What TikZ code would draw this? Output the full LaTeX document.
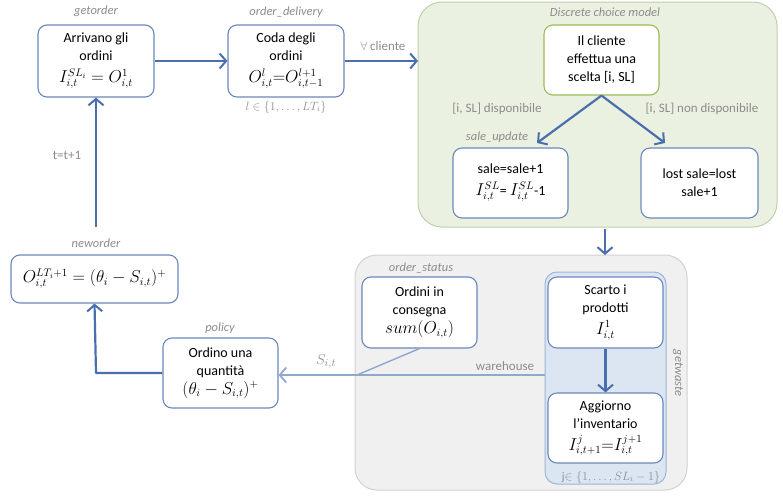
\documentclass[tikz,border=0pt]{standalone}
\usepackage{fontspec}
\setmainfont{Carlito}
\usetikzlibrary{arrows.meta}

\definecolor{flow}{HTML}{4A6FAD}
\definecolor{boxline}{HTML}{6A88BC}
\definecolor{lbl}{HTML}{8C8C8C}
\definecolor{greenfill}{HTML}{EBF1E1}
\definecolor{greenline}{HTML}{BFCFAE}
\definecolor{choiceline}{HTML}{9BBB59}
\definecolor{greyfill}{HTML}{F0F0F0}
\definecolor{greyline}{HTML}{D2D2D2}
\definecolor{bluefill}{HTML}{DCE6F2}
\definecolor{blueline}{HTML}{9DB5D6}
\definecolor{wareline}{HTML}{8FA8CC}

% formulas set a little larger than the surrounding text
\newcommand{\fml}[1]{{\fontsize{16}{19}\selectfont$#1$}}

\tikzset{
  box/.style={draw=boxline, line width=1.1pt, rounded corners=9pt, fill=white,
    align=center, inner sep=2pt, minimum width=115pt, minimum height=70pt,
    font=\fontsize{14}{18}\selectfont},
  region/.style={rounded corners=24pt, line width=1pt},
  flowarrow/.style={draw=flow, line width=2.2pt, line join=round,
    -{Straight Barb[length=6.5pt,width=15pt,line width=2pt]}},
  warearrow/.style={draw=wareline, line width=1.4pt,
    -{Straight Barb[length=6.5pt,width=15pt,line width=1.8pt]}},
  tag/.style={text=lbl, font=\fontsize{12.5}{14}\selectfont\itshape},
  note/.style={text=lbl, font=\fontsize{13}{15}\selectfont},
}

\begin{document}
\begin{tikzpicture}[x=1pt, y=-1pt]
\useasboundingbox (0,0) rectangle (783,498);

% background groups
\node[region, draw=greenline, fill=greenfill, minimum width=359pt, minimum height=225pt,
      inner sep=0pt] (dcm) at (597.5,114.5) {};
\node[region, rounded corners=22pt, draw=greyline, fill=greyfill, minimum width=332pt,
      minimum height=235pt, inner sep=0pt] (status) at (521,372.5) {};
\node[region, rounded corners=12pt, draw=blueline, fill=bluefill, minimum width=121pt,
      minimum height=212pt, inner sep=0pt] (waste) at (605.5,378) {};

% process boxes
\node[box, minimum width=116pt, minimum height=72pt] (getorder) at (96,61)
  {Arrivano gli\\ordini\\[4pt]\fml{I^{SL_i}_{i,t}=O^{1}_{i,t}}};
\node[box, minimum width=116pt, minimum height=72pt] (delivery) at (286,61)
  {Coda degli\\ordini\\[4pt]\fml{O^{l}_{i,t}\mathrm{=}O^{l+1}_{i,t-1}}};
\node[box, draw=choiceline] (choice) at (601.5,60)
  {Il cliente\\effettua una\\scelta [i, SL]};
\node[box] (sale) at (510.5,183)
  {sale=sale+1\\[4pt]\fml{I^{SL}_{i,t}}= \fml{I^{SL}_{i,t}}-1};
\node[box, minimum width=117pt] (lost) at (699.5,183)
  {lost sale=lost\\sale+1};
\node[box, minimum height=71pt] (ordini) at (419.5,312.5)
  {Ordini in\\consegna\\[1pt]\fml{sum(O_{i,t})}};
\node[box, minimum height=71pt] (scarto) at (605.5,312.5)
  {Scarto i\\prodotti\\[4pt]\fml{I^{1}_{i,t}}};
\node[box] (aggiorno) at (605.5,428)
  {Aggiorno\\l’inventario\\[4pt]\fml{I^{j}_{i,t+1}\mathrm{=}I^{j+1}_{i,t}}};
\node[box] (policy) at (220.5,373)
  {Ordino una\\quantità\\[1pt]\fml{(\theta_i-S_{i,t})^+}};
\node[box, minimum width=167pt, minimum height=48pt] (neworder) at (94.5,279)
  {\fml{O^{LT_i+1}_{i,t}=(\theta_i-S_{i,t})^+}};

% function names and annotations
\node[tag] (tgetorder) at (96,11) {getorder};
\node[tag] (tdelivery) at (286,12) {order\_delivery};
\node[tag] (tdcm) at (605,12) {Discrete choice model};
\node[tag] (tsale) at (497,137) {sale\_update};
\node[tag] (tstatus) at (421,268) {order\_status};
\node[tag, rotate=-90] (twaste) at (678,373) {getwaste};
\node[tag] (tpolicy) at (220,328) {policy};
\node[tag] (tneworder) at (96,243) {neworder};
\node[note, font=\fontsize{11.5}{13}\selectfont] (lrange) at (286,107) {$l\in\{1,\dots,LT_i\}$};
\node[note, font=\fontsize{11.5}{13}\selectfont] (jrange) at (611,477) {j$\in\{1,\dots,SL_i-1\}$};
\node[note] (lall) at (383,46) {$\forall$ cliente};
\node[note] (lyes) at (497,109) {[i, SL] disponibile};
\node[note] (lno) at (702,109) {[i, SL] non disponibile};
\node[note] (lware) at (505,366) {warehouse};
\node[note, font=\fontsize{15}{17}\selectfont] (lstock) at (326,362) {$S_{i,t}$};
\node[note] (lstep) at (67,155) {t=t+1};

% connector end points
\coordinate (dcmin) at (418,61);
\coordinate (saletip) at (537,143);
\coordinate (losttip) at (665,143);
\coordinate (dcmout) at (605,229);
\coordinate (statusin) at (605,255);
\coordinate (join) at (357,375);
\coordinate (corner) at (96,373);
\coordinate (loopstart) at (96,227);

% flow
\draw[flowarrow] (getorder.east) -- (delivery.west);
\draw[flowarrow] (delivery.east) -- (dcmin);
\draw[flowarrow] (choice.south) -- (saletip);
\draw[flowarrow] (choice.south) -- (losttip);
\draw[flowarrow] (dcmout) -- (statusin);
\draw[flowarrow] (scarto.south) -- (aggiorno.north);
\draw[flowarrow] (policy.west) -- (corner) -- (neworder.south);
\draw[flowarrow] (loopstart) -- (getorder.south);

% stock information towards the policy
\draw[draw=wareline, line width=1.4pt] (waste.west |- join) -- (join);
\draw[draw=wareline, line width=1.4pt] (ordini.south) -- (join);
\draw[warearrow] (join) -- (policy.east |- join);
\end{tikzpicture}
\end{document}
